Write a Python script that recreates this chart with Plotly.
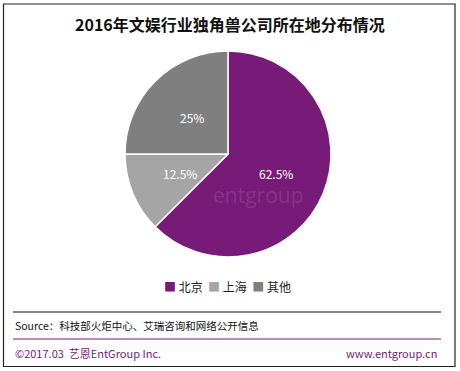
import math
import plotly.graph_objects as go

categories = ["北京", "上海", "其他"]
values = [62.5, 12.5, 25]
value_labels = ["62.5%", "12.5%", "25%"]
colors = ["#781A78", "#A5A5A5", "#7F7F7F"]

W, H = 460, 371

def px(x):
    return x / W

def py(y):
    return 1 - y / H

# pie geometry (pixels)
CX, CY, R = 228, 154, 103

fig = go.Figure()
fig.add_trace(go.Pie(
    labels=categories,
    values=values,
    textinfo="none",
    sort=False,
    direction="clockwise",
    rotation=0,
    marker=dict(colors=colors, line=dict(color="white", width=1.5)),
    domain=dict(x=[px(CX - R), px(CX + R)], y=[py(CY + R), py(CY - R)]),
    hoverinfo="label+percent",
    showlegend=False,
))

annotations = []
# slice labels at half radius, mid-angle (computed from data)
total = sum(values)
cum = 0
for v, lab in zip(values, value_labels):
    mid = (cum + v / 2) / total * 2 * math.pi
    cum += v
    lx = CX + 0.5 * R * math.sin(mid)
    ly = CY - 0.5 * R * math.cos(mid)
    annotations.append(dict(
        text=lab, xref="paper", yref="paper", x=px(lx), y=py(ly),
        xanchor="center", yanchor="middle", showarrow=False,
        font=dict(size=12, color="white", family="Noto Sans CJK SC")))

legend_text = "  ".join(
    f"<span style='color:{c}'>■</span> {n}" for n, c in zip(categories, colors))

annotations += [
    dict(text="<b>2016年文娱行业独角兽公司所在地分布情况</b>", xref="paper", yref="paper",
         x=0.5, y=py(24), xanchor="center", yanchor="middle", showarrow=False,
         font=dict(size=16, color="#111", family="Noto Sans CJK SC")),
    dict(text=legend_text, xref="paper", yref="paper",
         x=px(227), y=py(286), xanchor="center", yanchor="middle", showarrow=False,
         font=dict(size=12, color="#222", family="Noto Sans CJK SC")),
    dict(text="Source：科技部火炬中心、艾瑞咨询和网络公开信息", xref="paper", yref="paper",
         x=px(13), y=py(325), xanchor="left", yanchor="middle", showarrow=False,
         font=dict(size=10.5, color="#111", family="Noto Sans CJK SC")),
    dict(text="©2017.03  艺恩EntGroup Inc.", xref="paper", yref="paper",
         x=px(13), y=py(353), xanchor="left", yanchor="middle", showarrow=False,
         font=dict(size=11, color="#781A78", family="Noto Sans CJK SC")),
    dict(text="www.entgroup.cn", xref="paper", yref="paper",
         x=px(439), y=py(353), xanchor="right", yanchor="middle", showarrow=False,
         font=dict(size=11, color="#781A78", family="Noto Sans CJK SC")),
    dict(text="entgroup", xref="paper", yref="paper",
         x=px(258), y=py(195), xanchor="center", yanchor="middle", showarrow=False,
         font=dict(size=21, color="rgba(200,200,200,0.18)", family="Open Sans")),
]

fig.update_layout(
    width=W, height=H,
    margin=dict(l=0, r=0, t=0, b=0),
    paper_bgcolor="white",
    plot_bgcolor="white",
    font=dict(family="Noto Sans CJK SC", color="#222"),
    showlegend=False,
    shapes=[
        dict(type="rect", xref="paper", yref="paper",
             x0=px(3.5), x1=px(455), y0=py(366.5), y1=py(4),
             line=dict(color="#222", width=1.2), fillcolor="rgba(0,0,0,0)"),
        dict(type="line", xref="paper", yref="paper",
             x0=px(13), x1=px(441), y0=py(312), y1=py(312),
             line=dict(color="#111", width=1.2)),
        dict(type="line", xref="paper", yref="paper",
             x0=px(13), x1=px(441), y0=py(339), y1=py(339),
             line=dict(color="#781A78", width=1.2)),
    ],
    annotations=annotations,
)

fig.write_html(
    "out.html",
    config={"displayModeBar": False},
    post_script="document.body.style.margin='0';document.body.style.overflow='hidden';",
)
